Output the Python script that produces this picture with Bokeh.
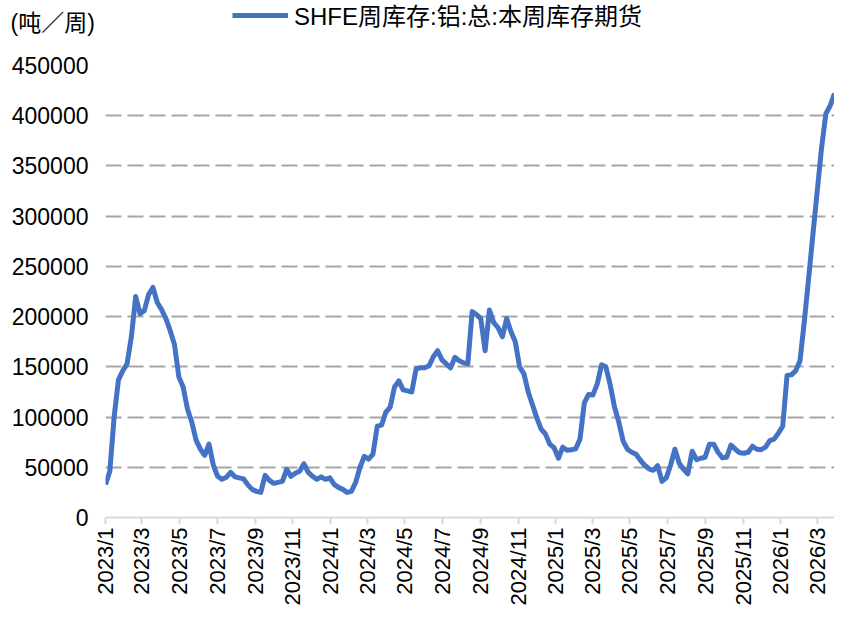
import pandas as pd
from bokeh.plotting import figure
from bokeh.layouts import column
from bokeh.models import (Range1d, FixedTicker, NumeralTickFormatter, Legend,
                          LegendItem, Label, ColumnDataSource)
from bokeh.embed import file_html
from bokeh.resources import INLINE

# ---------------- data ----------------
start_date = "2023-01-01"          # first weekly observation
unit_label = "(吨／周)"
series_name = "SHFE周库存:铝:总:本周库存期货"

inventory = [
    33000, 46000, 100000, 137000, 146000, 153000, 180000, 220000, 203000, 206000,
    222000, 229000, 214000, 207000, 198000, 186000, 172000, 140000, 130000, 108000,
    95000, 77000, 68000, 62000, 73000, 52000, 41000, 38000, 40000, 45000,
    40500, 39500, 38500, 32500, 28000, 26000, 25000, 42000, 37000, 34000,
    35000, 36000, 48000, 41000, 44000, 46000, 53500, 45000, 41000, 38000,
    40500, 38000, 39500, 33000, 30000, 28000, 25000, 26000, 35000, 50000,
    61000, 58000, 63000, 91000, 92000, 105000, 110000, 130000, 136000, 127000,
    126000, 125000, 148000, 149000, 149000, 151000, 160000, 166000, 157000, 153000,
    149000, 159500, 156000, 154000, 153000, 205000, 202000, 198000, 166000, 206500,
    194000, 189000, 180000, 198000, 185000, 175000, 150000, 143000, 125000, 112000,
    99000, 88000, 83000, 73000, 69500, 59000, 70000, 67000, 67500, 68500,
    78000, 114000, 122500, 122000, 133000, 152000, 150000, 132000, 110000, 95000,
    76000, 68000, 65000, 63000, 57000, 52000, 48500, 47000, 51500, 36000,
    39500, 52000, 68000, 54000, 48000, 43500, 66000, 57500, 59000, 60000,
    73000, 73000, 65000, 59500, 60000, 72000, 68000, 64500, 64000, 65000,
    71000, 68000, 67500, 70000, 76500, 78000, 84000, 91000, 141500, 142000,
    146000, 156000, 195000, 238000, 282000, 325000, 368000, 402000, 410000, 422000,
]

tick_dates = ["2023-01-01", "2023-03-01", "2023-05-01", "2023-07-01", "2023-09-01",
              "2023-11-01", "2024-01-01", "2024-03-01", "2024-05-01", "2024-07-01",
              "2024-09-01", "2024-11-01", "2025-01-01", "2025-03-01", "2025-05-01",
              "2025-07-01", "2025-09-01", "2025-11-01", "2026-01-01", "2026-03-01"]
tick_labels = ["2023/1", "2023/3", "2023/5", "2023/7", "2023/9", "2023/11",
               "2024/1", "2024/3", "2024/5", "2024/7", "2024/9", "2024/11",
               "2025/1", "2025/3", "2025/5", "2025/7", "2025/9", "2025/11",
               "2026/1", "2026/3"]
y_ticks = [0, 50000, 100000, 150000, 200000, 250000, 300000, 350000, 400000, 450000]

# ---------------- build ----------------
dates = pd.date_range(start_date, periods=len(inventory), freq="7D")
src = ColumnDataSource(dict(date=dates, inv=inventory))
tick_ms = [int(pd.Timestamp(d).value // 10**6) for d in tick_dates]

FONT = "Liberation Sans, Noto Sans CJK SC"
BLUE = "#4472C4"
W = 834
HEAD_H = 40
MAIN_H = 608 - HEAD_H

# ---- header strip: unit label + legend ----
head = figure(width=W, height=HEAD_H, x_range=Range1d(0, 1), y_range=Range1d(0, 1),
              output_backend="svg", toolbar_location=None,
              x_axis_location=None, y_axis_location=None,
              min_border=0, min_border_left=0, min_border_right=0,
              min_border_top=0, min_border_bottom=0)
if "frame_align" in head.properties():
    head.frame_align = False
head.outline_line_color = None
head.xgrid.visible = False
head.ygrid.visible = False
# legend-only renderer (kept outside the header's visible range)
dummy = head.line(x=[5, 6], y=[5, 5], line_width=5, color=BLUE)

legend = Legend(items=[LegendItem(label=series_name, renderers=[dummy])],
                location=(232, 8), orientation="horizontal",
                label_text_font=FONT, label_text_font_size="24px",
                label_text_color="#000000", glyph_width=56, glyph_height=28,
                label_height=28, label_standoff=6, padding=0, margin=0,
                spacing=0, border_line_color=None, background_fill_alpha=0)
head.add_layout(legend, "center")

unit = Label(x=10, y=18, x_units="screen", y_units="screen", text=unit_label,
             text_font=FONT, text_font_size="23px", text_color="#000000",
             text_baseline="middle", text_align="left")
head.add_layout(unit)

# ---- main chart ----
p = figure(width=W, height=MAIN_H, x_axis_type="datetime",
           x_range=Range1d(dates[0], dates[-1]), y_range=Range1d(0, 450000),
           output_backend="svg", toolbar_location=None,
           min_border_left=105, min_border_right=0, min_border_top=25,
           min_border_bottom=91)
if "frame_align" in p.properties():
    p.frame_align = False
p.outline_line_color = None
p.background_fill_color = "white"

r = p.line(x="date", y="inv", source=src, line_width=5, color=BLUE,
           line_join="round")

xa = p.xaxis[0]
xa.ticker = FixedTicker(ticks=tick_ms)
xa.major_label_overrides = {t: l for t, l in zip(tick_ms, tick_labels)}
xa.major_label_orientation = 3.14159265 / 2
xa.axis_line_color = "#d9d9d9"
xa.axis_line_width = 2
xa.major_tick_line_color = "#d9d9d9"
xa.major_tick_line_width = 2
xa.major_tick_out = 7
xa.major_tick_in = 0
xa.minor_tick_line_color = None
xa.major_label_standoff = 3
xa.major_label_text_font = FONT
xa.major_label_text_font_size = "22px"
xa.major_label_text_color = "#000000"

ya = p.yaxis[0]
ya.ticker = FixedTicker(ticks=y_ticks)
ya.formatter = NumeralTickFormatter(format="0")
ya.axis_line_color = None
ya.major_tick_line_color = None
ya.minor_tick_line_color = None
ya.major_tick_out = 0
ya.major_tick_in = 0
ya.major_label_standoff = 17
ya.major_label_text_font = FONT
ya.major_label_text_font_size = "23px"
ya.major_label_text_color = "#000000"

p.xgrid.grid_line_color = None
p.ygrid.ticker = FixedTicker(ticks=y_ticks[1:])
p.ygrid.grid_line_color = "#a6a6a6"
p.ygrid.grid_line_width = 2
p.ygrid.grid_line_dash = "16 6"

layout = column(head, p, spacing=0)
open("out.html", "w").write(file_html(layout, INLINE))
